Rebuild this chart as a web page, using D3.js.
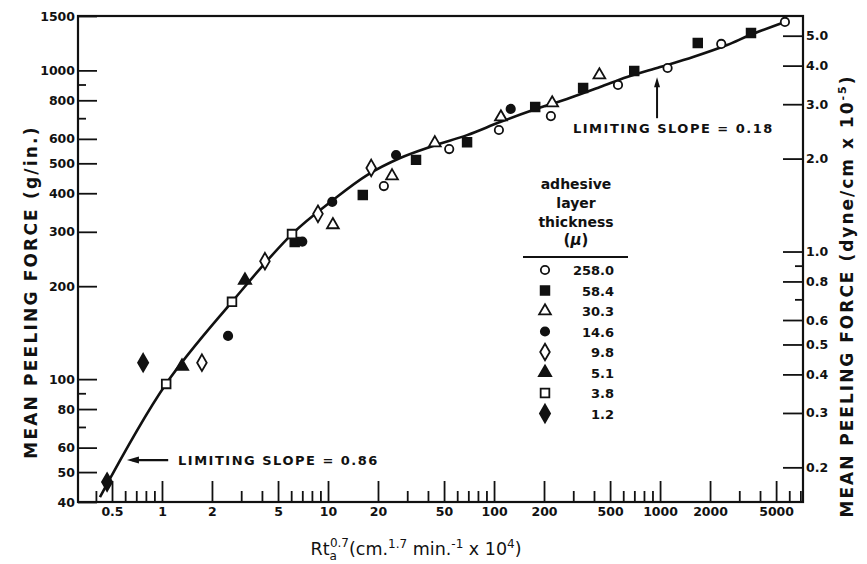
<!DOCTYPE html>
<html><head><meta charset="utf-8">
<script src="https://cdn.jsdelivr.net/npm/d3@7"></script>
<style>
body{margin:0;background:#fff;}
svg{display:block;}
text{font-family:"DejaVu Sans",sans-serif;fill:#111;}
</style></head>
<body>
<svg id="c" width="867" height="564"></svg>
<script>
// ---- data ----
const thicknesses = ["258.0","58.4","30.3","14.6","9.8","5.1","3.8","1.2"];
const s258 = [[21.7,422],[53.7,556],[107,641],[220,711],[558,897],[1110,1018],[2336,1218],[5650,1435]];
const s58  = [[6.3,278],[16.2,395],[33.9,513],[68.8,585],[177,761],[344,877],[699,995],[1687,1227],[3530,1321]];
const s30  = [[10.7,316],[24.3,455],[44.0,582],[110,706],[224,784],[431,966]];
const s14  = [[2.5,138],[7.0,279],[10.6,375],[25.7,532],[126,750]];
const s9   = [[1.74,113],[4.17,241],[8.7,343],[18.2,483]];
const s5   = [[1.32,110],[3.16,209]];
const s3   = [[1.06,96.5],[2.64,178],[6.07,295]];
const s1   = [[0.467,46.4],[0.77,113]];
const seriesData = [s258,s58,s30,s14,s9,s5,s3,s1];
const curveX = [0.423,1.057,2.64,6.07,10.7,17.2,27.2,42.9,68.8,108.7,171.8,275,435,633,1000,1581,2533,3484,5650];
const curveY = [41.5,96.5,178,295,380,458,520,569,617,680,744,808,883,952,1025,1105,1208,1302,1435];
const xMajor = [0.5,1,2,5,10,20,50,100,200,500,1000,2000,5000];
const xMinor = [0.4,0.6,0.7,0.8,0.9,3,4,6,7,8,9,30,40,60,70,80,90,300,400,600,700,800,900,3000,4000,6000,7000];
const yMajor = [1500,1000,800,600,500,400,300,200,100,80,60,50,40];
const yMinor = [900,700,90,70];
const rMajor = [5.0,4.0,3.0,2.0,1.0,0.8,0.6,0.5,0.4,0.3,0.2];
const rMinor = [0.9,0.7];
const gInToDyne = 0.003861; // g/in -> dyne/cm x 1e-5

// ---- scales ----
const L=78, R=803, T=16, B=502;
const x = d3.scaleLog().domain([0.312,7260]).range([L,R]);
const y = d3.scaleLog().domain([40,1500]).range([B,T]);
const yr = d3.scaleLog().domain([40*gInToDyne,1500*gInToDyne]).range([B,T]);

const svg = d3.select("#c");

// frame
svg.append("rect").attr("x",L).attr("y",T).attr("width",R-L).attr("height",B-T)
  .attr("fill","none").attr("stroke","#111").attr("stroke-width",2.2);

function styleAxis(g){
  g.select(".domain").remove();
  g.selectAll(".tick line").attr("stroke","#111").attr("stroke-width",1.8);
  g.selectAll(".tick text").attr("font-size",12.5).attr("font-weight","bold")
   .style("font-family","DejaVu Sans");
}
// bottom
svg.append("g").attr("transform",`translate(0,${B})`)
  .call(d3.axisBottom(x).tickValues(xMajor).tickSize(-21)
        .tickFormat(d=>String(d)))
  .call(styleAxis)
  .call(g=>g.selectAll(".tick text").attr("dy","0").attr("y",14));
svg.append("g").attr("transform",`translate(0,${B})`)
  .call(d3.axisBottom(x).tickValues(xMinor).tickSize(-11).tickFormat(""))
  .call(styleAxis);
// left
svg.append("g").attr("transform",`translate(${L},0)`)
  .call(d3.axisLeft(y).tickValues(yMajor).tickSize(-19)
        .tickFormat(d=>String(d)))
  .call(styleAxis)
  .call(g=>g.selectAll(".tick text").attr("x",-3));
svg.append("g").attr("transform",`translate(${L},0)`)
  .call(d3.axisLeft(y).tickValues(yMinor).tickSize(-8).tickFormat(""))
  .call(styleAxis);
// right
svg.append("g").attr("transform",`translate(${R},0)`)
  .call(d3.axisRight(yr).tickValues(rMajor).tickSize(-20)
        .tickFormat(d3.format(".1f")))
  .call(styleAxis)
  .call(g=>g.selectAll(".tick text").attr("x",3));
svg.append("g").attr("transform",`translate(${R},0)`)
  .call(d3.axisRight(yr).tickValues(rMinor).tickSize(-8).tickFormat(""))
  .call(styleAxis);

// titles
svg.append("text").attr("transform","translate(37,292) rotate(-90)")
  .attr("text-anchor","middle").attr("font-size",17).attr("font-weight","bold")
  .attr("letter-spacing",2.2).text("MEAN PEELING FORCE (g/in.)");
const rt = svg.append("text").attr("transform","translate(853,296) rotate(-90)")
  .attr("text-anchor","middle").attr("font-size",17).attr("font-weight","bold")
  .attr("letter-spacing",2);
rt.append("tspan").text("MEAN PEELING FORCE  (dyne/cm x 10");
rt.append("tspan").attr("dy",-7).attr("font-size",11).text("-5");
rt.append("tspan").attr("dy",7).text(")");

const xt = svg.append("text").attr("x",416).attr("y",555).attr("text-anchor","middle")
  .attr("font-size",17.5);
xt.append("tspan").text("Rt");
xt.append("tspan").attr("dy",5).attr("font-size",12).text("a");
xt.append("tspan").attr("dx",-7).attr("dy",-13).attr("font-size",12).text("0.7");
xt.append("tspan").attr("dy",8).text("(cm.");
xt.append("tspan").attr("dy",-7).attr("font-size",12).text("1.7");
xt.append("tspan").attr("dy",7).text(" min.");
xt.append("tspan").attr("dy",-7).attr("font-size",12).text("-1");
xt.append("tspan").attr("dy",7).text(" x 10");
xt.append("tspan").attr("dy",-7).attr("font-size",12).text("4");
xt.append("tspan").attr("dy",7).text(")");

// curve
const curvePts = curveX.map((v,i)=>[v,curveY[i]]);
svg.append("path").datum(curvePts)
  .attr("fill","none").attr("stroke","#111").attr("stroke-width",2.6)
  .attr("d",d3.line().x(d=>x(d[0])).y(d=>y(d[1])).curve(d3.curveCatmullRom.alpha(0.5)));

// symbols
const symDefs = [
  {type:d3.symbolCircle,size:55,fill:false},
  {type:d3.symbolSquare,size:75,fill:true},
  {type:d3.symbolTriangle,size:60,fill:false},
  {type:d3.symbolCircle,size:55,fill:true},
  {type:d3.symbolDiamond,size:80,fill:false},
  {type:d3.symbolTriangle,size:65,fill:true},
  {type:d3.symbolSquare,size:75,fill:false},
  {type:d3.symbolDiamond,size:90,fill:true}
];
function drawSym(g,def){
  g.attr("d",d3.symbol().type(def.type).size(def.size)())
   .attr("fill",def.fill?"#111":"#fff").attr("stroke","#111").attr("stroke-width",1.8);
}
seriesData.forEach((arr,i)=>{
  svg.append("g").selectAll("path").data(arr).join("path")
    .attr("transform",d=>`translate(${x(d[0])},${y(d[1])})`)
    .each(function(){drawSym(d3.select(this),symDefs[i]);});
});

// legend
const lg = svg.append("g");
["adhesive","layer","thickness"].forEach((t,i)=>{
  lg.append("text").attr("x",576).attr("y",189+i*19).attr("text-anchor","middle")
    .attr("font-size",14).attr("font-weight","bold").text(t);
});
lg.append("text").attr("x",576).attr("y",245).attr("text-anchor","middle")
  .attr("font-size",15).attr("font-weight","bold")
  .html('(<tspan font-style="italic">μ</tspan>)');
lg.append("line").attr("x1",523).attr("x2",628).attr("y1",257).attr("y2",257)
  .attr("stroke","#111").attr("stroke-width",1.8);
thicknesses.forEach((t,i)=>{
  const yy = 270+i*20.5;
  const p = lg.append("path").attr("transform",`translate(545,${yy})`);
  drawSym(p,symDefs[i]);
  lg.append("text").attr("x",614).attr("y",yy+5).attr("text-anchor","end")
    .attr("font-size",13).attr("font-weight","bold").text(t);
});

// annotations
const a1y = y(54.7);
svg.append("line").attr("x1",x(0.66)).attr("x2",x(1.09)).attr("y1",a1y).attr("y2",a1y)
  .attr("stroke","#111").attr("stroke-width",2.2);
svg.append("path").attr("d",`M${x(0.615)},${a1y} L${x(0.615)+12},${a1y-3.5} L${x(0.615)+12},${a1y+3.5} Z`)
  .attr("fill","#111");
svg.append("text").attr("x",x(1.25)).attr("y",a1y+5).attr("font-size",13)
  .attr("font-weight","bold").attr("letter-spacing",1.5).text("LIMITING SLOPE = 0.86");

const a2x = x(959);
svg.append("line").attr("x1",a2x).attr("x2",a2x).attr("y1",y(700)).attr("y2",y(900))
  .attr("stroke","#111").attr("stroke-width",2);
svg.append("path").attr("d",`M${a2x},${y(950)} L${a2x-3},${y(950)+10} L${a2x+3},${y(950)+10} Z`)
  .attr("fill","#111");
svg.append("text").attr("x",x(299)).attr("y",y(627)).attr("font-size",13)
  .attr("font-weight","bold").attr("letter-spacing",1.5).text("LIMITING SLOPE = 0.18");
</script>
</body></html>
